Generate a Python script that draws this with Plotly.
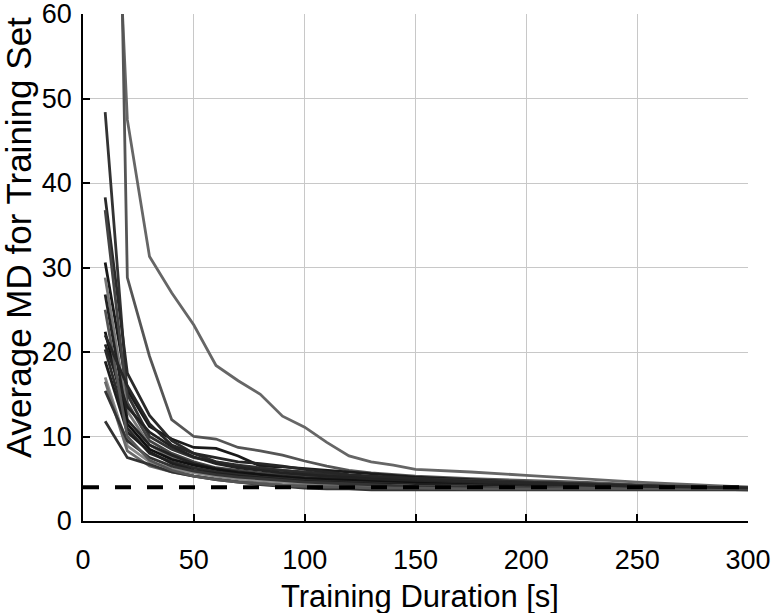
import plotly.graph_objects as go

# Training duration samples [s]
x_vals = [10, 20, 30, 40, 50, 60, 70, 80, 90, 100, 110, 120, 130, 140, 150,
          175, 200, 225, 250, 275, 300]

# Average MD for training set, one list per subject
s01 = [105, 47.5, 31.3, 27.0, 23.2, 18.4, 16.6, 15.0, 12.4, 11.1, 9.3, 7.7, 7.0, 6.6, 6.1, 5.8, 5.4, 5.0, 4.6, 4.3, 4.0]
s02 = [170, 28.8, 19.5, 12.0, 10.0, 9.7, 8.7, 8.3, 7.8, 7.1, 6.5, 6.0, 5.7, 5.5, 5.3, 5.0, 4.8, 4.6, 4.3, 4.1, 4.0]
s03 = [30.6, 15.5, 11.2, 9.7, 8.7, 8.6, 7.7, 6.5, 6.4, 6.2, 6.0, 5.8, 5.6, 5.4, 5.2, 4.9, 4.6, 4.4, 4.2, 4.0, 3.9]
s04 = [48.4, 15.0, 10.0, 8.5, 7.5, 7.0, 6.6, 6.3, 6.0, 5.8, 5.6, 5.4, 5.2, 5.1, 5.0, 4.8, 4.6, 4.4, 4.2, 4.0, 3.9]
s05 = [38.3, 17.5, 12.5, 9.5, 8.0, 7.0, 6.5, 6.2, 6.0, 5.7, 5.5, 5.3, 5.1, 5.0, 4.9, 4.7, 4.5, 4.3, 4.1, 4.0, 3.9]
s06 = [36.8, 14.0, 9.5, 8.0, 7.0, 6.3, 6.0, 5.7, 5.5, 5.3, 5.1, 5.0, 4.9, 4.8, 4.7, 4.5, 4.3, 4.2, 4.0, 3.9, 3.8]
s07 = [28.8, 13.0, 9.0, 7.5, 6.6, 6.0, 5.6, 5.3, 5.1, 4.9, 4.8, 4.7, 4.6, 4.5, 4.4, 4.3, 4.2, 4.1, 4.0, 3.9, 3.8]
s08 = [26.8, 12.0, 9.0, 7.8, 6.8, 6.2, 5.8, 5.5, 5.3, 5.1, 5.0, 4.9, 4.8, 4.7, 4.6, 4.4, 4.2, 4.1, 4.0, 3.9, 3.8]
s09 = [22.4, 11.5, 8.5, 7.3, 6.6, 6.1, 5.7, 5.5, 5.2, 5.0, 4.9, 4.8, 4.7, 4.6, 4.5, 4.3, 4.2, 4.0, 3.9, 3.8, 3.8]
s10 = [20.9, 13.5, 10.5, 8.8, 7.6, 6.8, 6.3, 6.0, 5.7, 5.5, 5.3, 5.2, 5.0, 4.9, 4.8, 4.6, 4.4, 4.2, 4.1, 3.9, 3.8]
s11 = [20.3, 11.0, 8.0, 7.0, 6.3, 5.8, 5.5, 5.2, 5.0, 4.8, 4.7, 4.6, 4.5, 4.4, 4.3, 4.2, 4.1, 4.0, 3.9, 3.8, 3.8]
s12 = [18.9, 10.5, 8.2, 6.8, 6.0, 5.6, 5.3, 5.1, 4.9, 4.7, 4.6, 4.5, 4.4, 4.3, 4.2, 4.1, 4.0, 3.9, 3.8, 3.8, 3.7]
s13 = [17.0, 8.9, 7.0, 6.2, 5.7, 5.3, 5.0, 4.8, 4.6, 4.5, 4.4, 4.3, 4.2, 4.2, 4.1, 4.0, 3.9, 3.9, 3.8, 3.8, 3.8]
s14 = [16.5, 8.3, 6.5, 5.8, 5.3, 5.0, 4.7, 4.5, 4.3, 4.2, 4.1, 4.1, 4.0, 4.0, 3.9, 3.9, 3.8, 3.8, 3.8, 3.8, 3.8]
s15 = [15.4, 9.5, 7.5, 6.5, 5.9, 5.5, 5.2, 5.0, 4.8, 4.6, 4.5, 4.4, 4.3, 4.2, 4.1, 4.0, 3.9, 3.8, 3.8, 3.8, 3.8]
s16 = [11.8, 7.5, 6.7, 5.8, 5.3, 4.9, 4.6, 4.3, 4.1, 3.9, 3.8, 3.8, 3.7, 3.7, 3.7, 3.7, 3.7, 3.7, 3.7, 3.7, 3.7]
s17 = [25.0, 10.0, 7.2, 6.0, 5.3, 4.9, 4.6, 4.4, 4.2, 4.1, 4.0, 4.0, 3.9, 3.9, 3.9, 3.8, 3.8, 3.8, 3.8, 3.8, 3.8]
s18 = [22.0, 16.0, 11.5, 9.0, 8.0, 7.5, 7.0, 6.8, 6.5, 6.1, 5.8, 5.5, 5.3, 5.2, 5.0, 4.7, 4.5, 4.3, 4.1, 4.0, 3.9]

series = [s01, s02, s03, s04, s05, s06, s07, s08, s09, s10, s11, s12, s13, s14, s15, s16, s17, s18]
colors = ["#666666", "#555555", "#1a1a1a", "#333333", "#2a2a2a", "#444444", "#777777", "#222222",
          "#111111", "#222222", "#2b2b2b", "#1e1e1e", "#888888", "#6a6a6a", "#333333", "#333333",
          "#555555", "#262626"]

# Reference level (dashed)
ref_x = [0, 300]
ref_y = [4, 4]

x_ticks = [0, 50, 100, 150, 200, 250, 300]
y_ticks = [0, 10, 20, 30, 40, 50, 60]

fig = go.Figure()
for s, c in zip(series, colors):
    fig.add_trace(go.Scatter(x=x_vals, y=s, mode="lines",
                             line=dict(color=c, width=2.8), showlegend=False))
fig.add_trace(go.Scatter(x=ref_x, y=ref_y, mode="lines",
                         line=dict(color="black", width=4, dash="16px,16px"),
                         showlegend=False))

font_family = "Liberation Sans, Arial, Helvetica, sans-serif"
axis_common = dict(showgrid=True, gridcolor="#c8c8c8", gridwidth=1,
                   zeroline=False, showline=True, linecolor="black", linewidth=1.5,
                   ticks="inside", ticklen=7, tickwidth=1.5, tickcolor="black",
                   tickfont=dict(family=font_family, size=27, color="black"),
                   ticklabeloverflow="allow", automargin=False, mirror=False)

fig.update_layout(
    width=773, height=613,
    margin=dict(l=83, r=25, t=14, b=92),
    paper_bgcolor="white", plot_bgcolor="white",
    xaxis=dict(range=[0, 300], tickvals=x_ticks, ticklabelstandoff=14, **axis_common),
    yaxis=dict(range=[0, 60], tickvals=y_ticks, ticklabelstandoff=4, **axis_common),
    annotations=[
        dict(text="Training Duration [s]", xref="paper", yref="paper",
             x=0.507, y=-0.148, xanchor="center", yanchor="middle", showarrow=False,
             font=dict(family=font_family, size=31, color="black")),
        dict(text="Average MD for Training Set", xref="paper", yref="paper",
             x=-0.0977, y=0.558, xanchor="center", yanchor="middle", showarrow=False,
             textangle=-90,
             font=dict(family=font_family, size=35, color="black")),
    ],
)

fig.write_html("out.html")
